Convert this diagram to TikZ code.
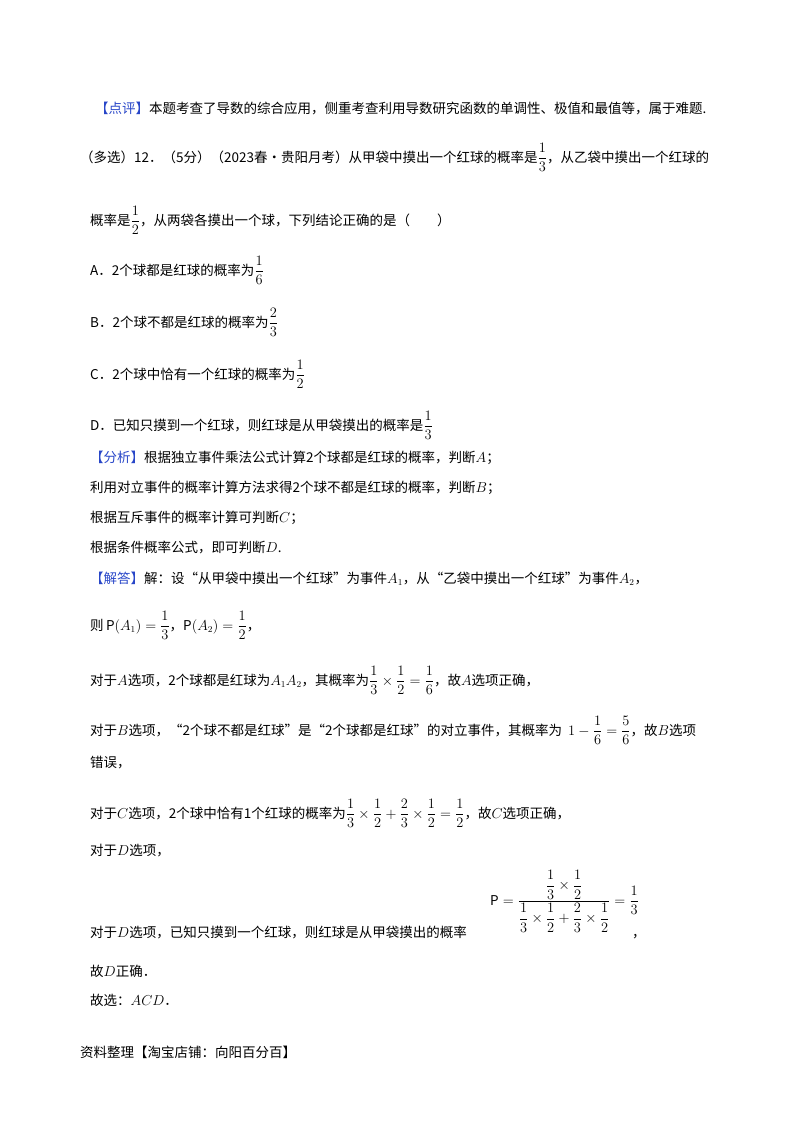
\documentclass[tikz,border=0pt]{standalone}
\usepackage{fontspec}
\setmainfont{Noto Sans CJK SC}
\usepackage{amsmath}
\definecolor{hl}{RGB}{40,70,200}
\begin{document}
\begin{tikzpicture}[x=1pt,y=-1pt,
  ln/.style={anchor=base west,inner sep=0pt,font=\fontsize{13.5}{16}\selectfont}]
\useasboundingbox (0,0) rectangle (800,1132);
\node[ln] (l1) at (95,113) {{\color{hl}【点评】}本题考查了导数的综合应用，侧重考查利用导数研究函数的单调性、极值和最值等，属于难题.};
\node[ln] (l2) at (80,162) {（多选）12．（5分）（2023春•贵阳月考）从甲袋中摸出一个红球的概率是$\dfrac{1}{3}$，从乙袋中摸出一个红球的};
\node[ln] (l3) at (90,225) {概率是$\dfrac{1}{2}$，从两袋各摸出一个球，下列结论正确的是（\quad\quad）};
\node[ln] (l4) at (90,275) {A．2个球都是红球的概率为$\dfrac{1}{6}$};
\node[ln] (l5) at (90,327) {B．2个球不都是红球的概率为$\dfrac{2}{3}$};
\node[ln] (l6) at (90,379) {C．2个球中恰有一个红球的概率为$\dfrac{1}{2}$};
\node[ln] (l7) at (90,430) {D．已知只摸到一个红球，则红球是从甲袋摸出的概率是$\dfrac{1}{3}$};
\node[ln] (l8) at (90,462) {{\color{hl}【分析】}根据独立事件乘法公式计算2个球都是红球的概率，判断$A$；};
\node[ln] (l9) at (90,492) {利用对立事件的概率计算方法求得2个球不都是红球的概率，判断$B$；};
\node[ln] (l10) at (90,522) {根据互斥事件的概率计算可判断$C$；};
\node[ln] (l11) at (90,552) {根据条件概率公式，即可判断$D$.};
\node[ln] (l12) at (90,583) {{\color{hl}【解答】}解：设“从甲袋中摸出一个红球”为事件$A_1$，从“乙袋中摸出一个红球”为事件$A_2$，};
\node[ln] (l13) at (90,630) {则$\,\mathrm{P}(A_1)=\dfrac{1}{3}$，$\mathrm{P}(A_2)=\dfrac{1}{2}$，};
\node[ln] (l14) at (90,685) {对于$A$选项，2个球都是红球为$A_1A_2$，其概率为$\dfrac{1}{3}\times\dfrac{1}{2}=\dfrac{1}{6}$，故$A$选项正确，};
\node[ln] (l15) at (90,735) {对于$B$选项，“2个球不都是红球”是“2个球都是红球”的对立事件，其概率为\ \ $1-\dfrac{1}{6}=\dfrac{5}{6}$，故$B$选项};
\node[ln] (l16) at (90,767) {错误，};
\node[ln] (l17) at (90,818) {对于$C$选项，2个球中恰有1个红球的概率为$\dfrac{1}{3}\times\dfrac{1}{2}+\dfrac{2}{3}\times\dfrac{1}{2}=\dfrac{1}{2}$，故$C$选项正确，};
\node[ln] (l18) at (90,855) {对于$D$选项，};
\node[ln] (l19) at (90,937) {对于$D$选项，已知只摸到一个红球，则红球是从甲袋摸出的概率};
\node[ln] (frac) at (490,905) {$\mathrm{P}=\dfrac{\dfrac{1}{3}\times\dfrac{1}{2}}{\dfrac{1}{3}\times\dfrac{1}{2}+\dfrac{2}{3}\times\dfrac{1}{2}}=\dfrac{1}{3}$};
\node[ln] (comma) at (632,937) {，};
\node[ln] (l20) at (90,976) {故$D$正确．};
\node[ln] (l21) at (90,1005) {故选：$ACD$．};
\node[ln] (l22) at (80,1057) {资料整理【淘宝店铺：向阳百分百】};
\end{tikzpicture}
\end{document}
